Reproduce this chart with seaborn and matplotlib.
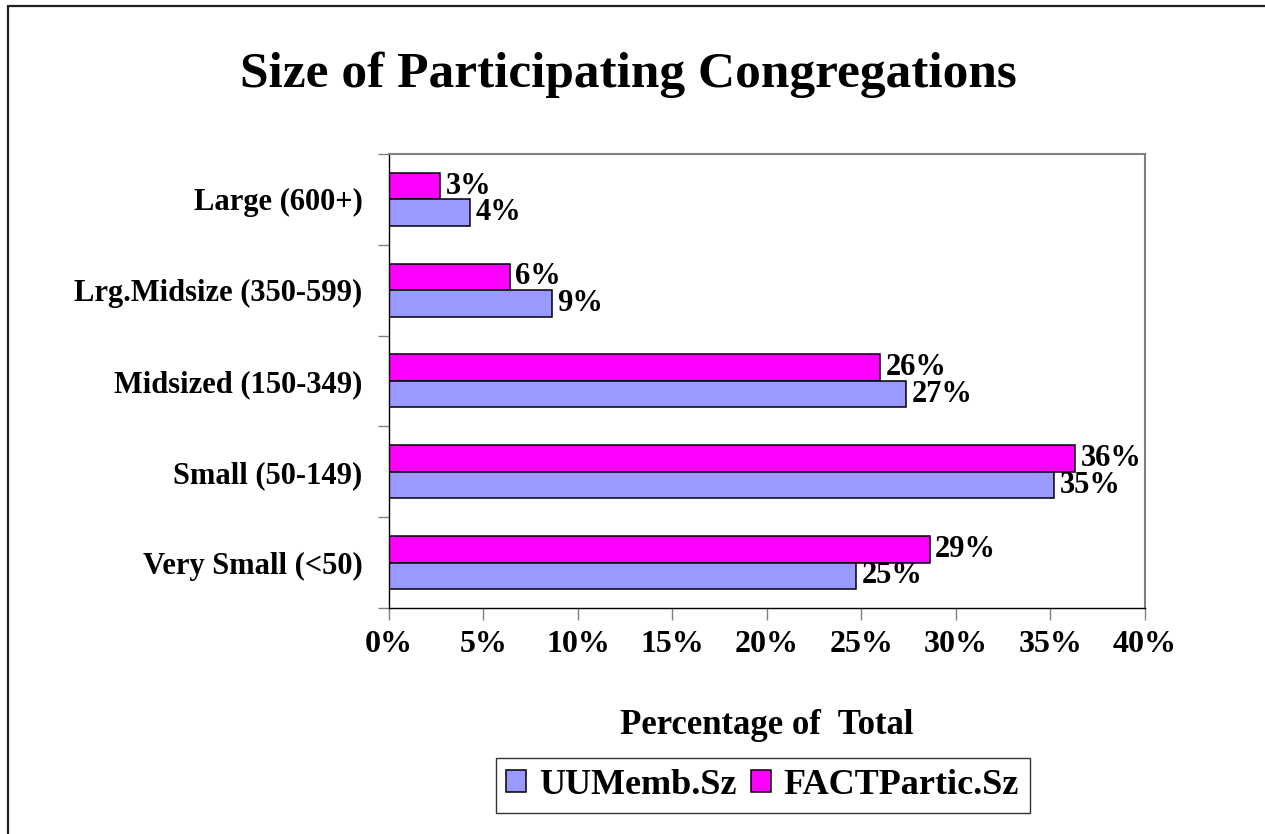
import numpy as np
import pandas as pd
import matplotlib
matplotlib.use('Agg')
import matplotlib.pyplot as plt
from matplotlib.patches import Rectangle, Patch
from matplotlib.ticker import FixedLocator, FuncFormatter
import seaborn as sns

# data (percent of total)
categories = ['Large (600+)', 'Lrg.Midsize (350-599)', 'Midsized (150-349)',
              'Small (50-149)', 'Very Small (<50)']
uu_memb = [4.3, 8.6, 27.35, 35.2, 24.7]
fact_partic = [2.7, 6.4, 26.0, 36.3, 28.6]
series_names = ['UUMemb.Sz', 'FACTPartic.Sz']
series_colors = {'UUMemb.Sz': '#9999FF', 'FACTPartic.Sz': '#FF00FF'}
x_ticks = [0, 5, 10, 15, 20, 25, 30, 35, 40]

df = pd.DataFrame({
    'category': categories * 2,
    'series': ['UUMemb.Sz'] * len(categories) + ['FACTPartic.Sz'] * len(categories),
    'value': uu_memb + fact_partic,
})

sns.set_style('white')
plt.rcParams['font.family'] = ['Liberation Serif', 'DejaVu Serif']
plt.rcParams['font.weight'] = 'bold'
for key in ['text.color', 'axes.labelcolor', 'xtick.labelcolor', 'ytick.labelcolor']:
    plt.rcParams[key] = 'black'

fig = plt.figure(figsize=(12.65, 8.34), dpi=100)
ax = fig.add_axes([0.3075, 0.271, 0.5976, 0.5444])

# FACT drawn on top of each pair, UU below
sns.barplot(data=df, y='category', x='value', hue='series',
            hue_order=['FACTPartic.Sz', 'UUMemb.Sz'], order=categories,
            palette=series_colors, orient='h', width=0.584, dodge=True,
            edgecolor='black', linewidth=1.1, saturation=1, ax=ax, legend=False)

for cont in ax.containers:
    ax.bar_label(cont, fmt='{:.0f}%', padding=4, fontsize=22, color='black',
                 fontweight='bold', family='Liberation Serif')

ax.set_xlim(0, 40)
ax.set_ylim(len(categories) - 0.5, -0.5)
ax.xaxis.set_major_locator(FixedLocator(x_ticks))
ax.xaxis.set_major_formatter(FuncFormatter(lambda v, p: f'{v:.0f}%'))
ax.tick_params(axis='x', which='major', direction='out', length=8.5,
               width=1, color='#808080', pad=7, labelsize=23, bottom=True)

# category labels at centres, tick marks at boundaries
ax.yaxis.set_minor_locator(FixedLocator(np.arange(-0.5, len(categories), 1.0)))
ax.tick_params(axis='y', which='major', length=0, pad=19, labelsize=22)
ax.tick_params(axis='y', which='minor', direction='out', length=8,
               width=1, color='#808080', left=True)
for lab in ax.get_xticklabels() + ax.get_yticklabels():
    lab.set_fontweight('bold')

ax.set_ylabel('')
ax.set_xlabel('Percentage of  Total', fontsize=25, fontweight='bold', labelpad=36)

for side in ['top', 'right']:
    ax.spines[side].set_color('#808080')
    ax.spines[side].set_linewidth(1.5)
for side in ['left', 'bottom']:
    ax.spines[side].set_color('black')
    ax.spines[side].set_linewidth(1.0)
ax.grid(False)

fig.text(0.4965, 0.910, 'Size of Participating Congregations', ha='center',
         va='center', fontsize=37, fontweight='bold')

handles = [Patch(facecolor=series_colors[s], edgecolor='black', linewidth=1.1)
           for s in series_names]
leg = fig.legend(handles, series_names, loc='center', bbox_to_anchor=(0.6028, 0.0582),
                 ncol=2, frameon=True, fancybox=False, edgecolor='black',
                 fontsize=26, handlelength=0.55, handleheight=0.55,
                 handletextpad=0.35, columnspacing=0.4, borderpad=0.3)
leg.get_frame().set_linewidth(1.0)
for t in leg.get_texts():
    t.set_fontweight('bold')

fig.add_artist(Rectangle((0.0063, -0.1), 1.5, 1.0928, transform=fig.transFigure,
                         fill=False, edgecolor='#222222', linewidth=1.6))

fig.savefig('out.png', dpi=100, facecolor='white')
